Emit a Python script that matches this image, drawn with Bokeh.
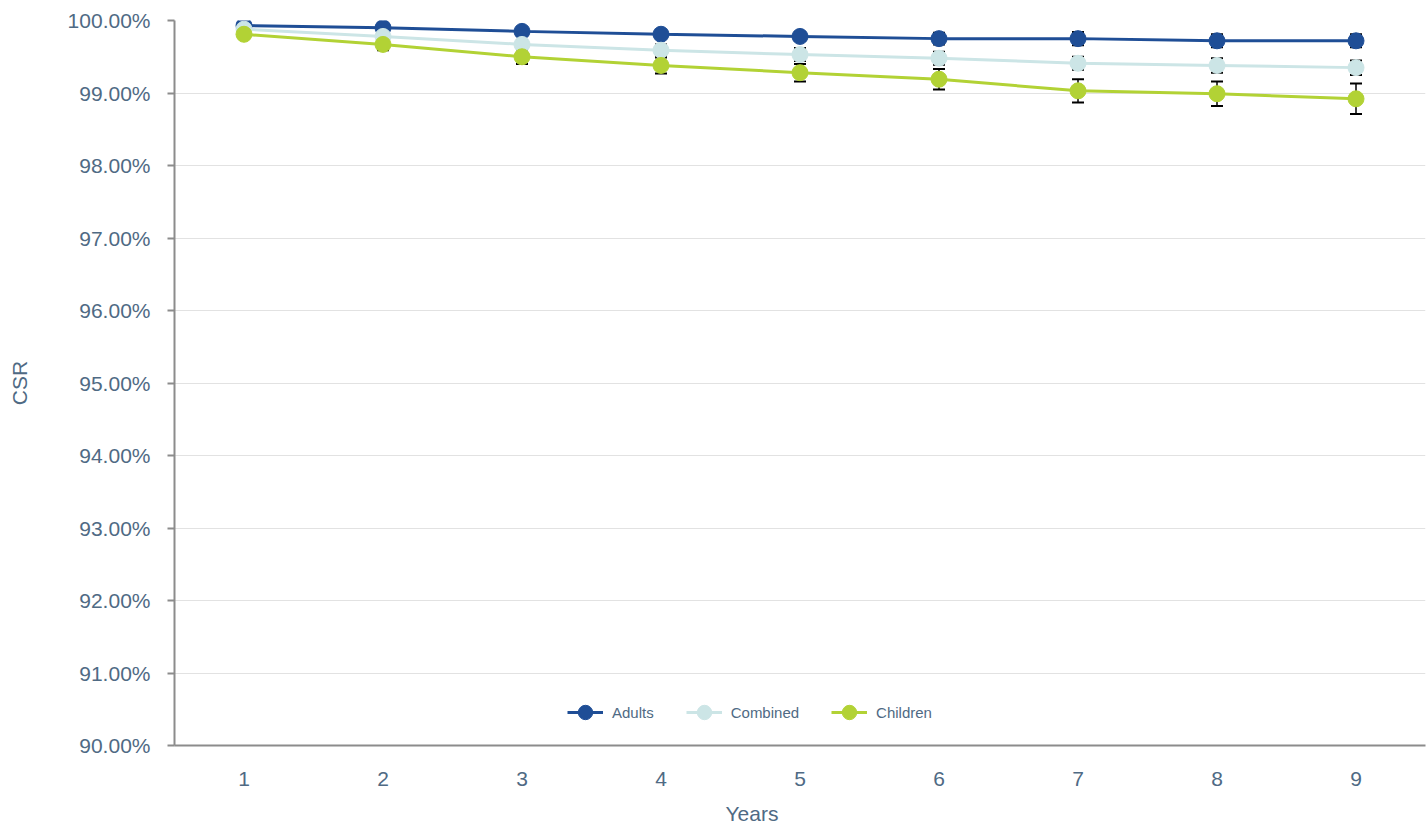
from bokeh.plotting import figure
from bokeh.models import (ColumnDataSource, Whisker, TeeHead, FixedTicker,
                          PrintfTickFormatter, Legend, LegendItem, Title)
from bokeh.embed import file_html
from bokeh.resources import INLINE

years = [1, 2, 3, 4, 5, 6, 7, 8, 9]
adults = [99.93, 99.90, 99.85, 99.81, 99.78, 99.75, 99.75, 99.72, 99.72]
combined = [99.88, 99.78, 99.67, 99.59, 99.53, 99.48, 99.41, 99.38, 99.35]
children = [99.81, 99.67, 99.50, 99.38, 99.28, 99.19, 99.03, 98.99, 98.92]
adults_err = [0.02, 0.03, 0.04, 0.05, 0.06, 0.08, 0.09, 0.09, 0.09]
combined_err = [0.03, 0.05, 0.06, 0.08, 0.09, 0.09, 0.09, 0.10, 0.10]
children_err = [0.05, 0.08, 0.10, 0.11, 0.12, 0.14, 0.16, 0.17, 0.21]
y_ticks = [90, 91, 92, 93, 94, 95, 96, 97, 98, 99, 100]

series = [
    ("Adults", adults, adults_err, "#1f4e96"),
    ("Combined", combined, combined_err, "#cce5e6"),
    ("Children", children, children_err, "#b2d235"),
]

TEXT = "#4f6a84"
FONT = "Liberation Sans"

p = figure(width=1427, height=835, output_backend="svg", toolbar_location=None,
           x_range=(0.5, 9.5), y_range=(90, 100),
           min_border_left=174, min_border_right=2, min_border_top=20,
           min_border_bottom=90)
p.outline_line_color = None
p.background_fill_color = "white"

p.xaxis.ticker = FixedTicker(ticks=years)
p.yaxis.ticker = FixedTicker(ticks=y_ticks)
p.yaxis.formatter = PrintfTickFormatter(format="%.2f%%")
p.xgrid.grid_line_color = None
p.ygrid.grid_line_color = "#e2e2e2"
p.ygrid.grid_line_width = 1

for ax in (p.xaxis, p.yaxis):
    ax.axis_line_color = "#8c8c8c"
    ax.axis_line_width = 2
    ax.major_label_text_color = TEXT
    ax.major_label_text_font = FONT
    ax.major_label_text_font_size = "21px"
    ax.axis_label_text_color = TEXT
    ax.axis_label_text_font = FONT
    ax.axis_label_text_font_size = "21px"
    ax.axis_label_text_font_style = "normal"
    ax.minor_tick_line_color = None

p.xaxis.major_tick_line_color = None
p.xaxis.major_label_standoff = 20
p.yaxis.major_tick_line_color = "#8c8c8c"
p.yaxis.major_tick_line_width = 2
p.yaxis.major_tick_out = 7
p.yaxis.major_tick_in = 0
p.yaxis.major_label_standoff = 17
p.yaxis.axis_label = "CSR"
p.yaxis.axis_label_standoff = 34

# x-axis title, placed slightly left of the frame centre as in the reference
xt = Title(text="Years", align="left", offset=551, standoff=22,
           text_font=FONT, text_font_size="21px", text_font_style="normal",
           text_color=TEXT)
p.add_layout(xt, "below")

# error bars
for name, vals, errs, color in series:
    src = ColumnDataSource(dict(x=years,
                                lower=[v - e for v, e in zip(vals, errs)],
                                upper=[v + e for v, e in zip(vals, errs)]))
    w = Whisker(base="x", lower="lower", upper="upper", source=src,
                line_color="black", line_width=1.5, level="underlay",
                upper_head=TeeHead(size=12, line_color="black", line_width=2),
                lower_head=TeeHead(size=12, line_color="black", line_width=2))
    p.add_layout(w)

items = []
for name, vals, errs, color in series:
    src = ColumnDataSource(dict(x=years, y=vals))
    l = p.line("x", "y", source=src, line_color=color, line_width=3)
    s = p.scatter("x", "y", source=src, size=16, fill_color=color,
                  line_color=color)
    items.append(LegendItem(label=name, renderers=[l, s]))

legend = Legend(items=items, orientation="horizontal", location=(393, 13),
                border_line_color=None, background_fill_alpha=0,
                label_text_font=FONT, label_text_font_size="15px",
                label_text_color=TEXT, glyph_width=36, glyph_height=40,
                spacing=32, label_standoff=9, padding=10)
p.add_layout(legend, "center")

open("out.html", "w").write(file_html(p, INLINE))
